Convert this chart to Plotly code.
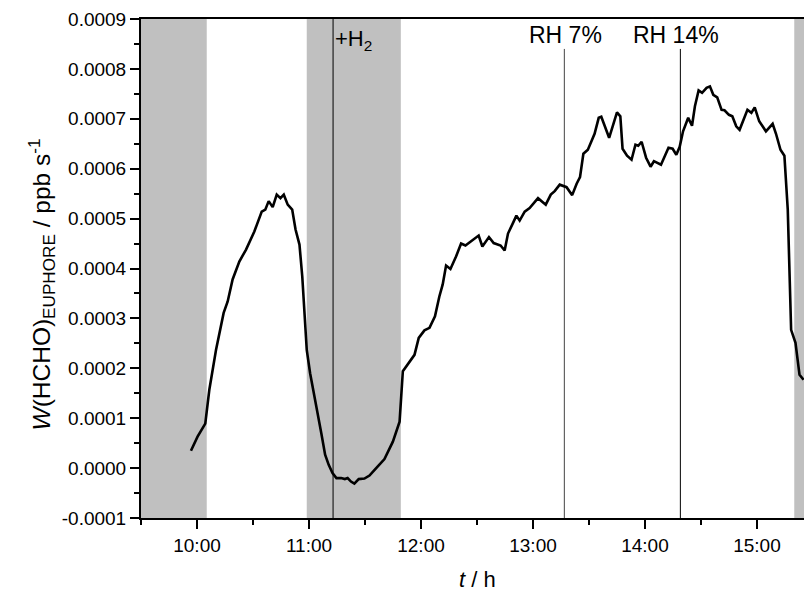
import plotly.graph_objects as go

# time in decimal hours, W(HCHO) in ppb/s
t_h = [9.946, 10.005, 10.074, 10.110, 10.170, 10.238, 10.274, 10.318, 10.378, 10.438,
       10.512, 10.578, 10.610, 10.640, 10.676, 10.712, 10.745, 10.775, 10.810, 10.850,
       10.880, 10.915, 10.940, 10.960, 10.980, 11.010, 11.050, 11.090, 11.110, 11.144,
       11.176, 11.210, 11.245, 11.287, 11.320, 11.345, 11.375, 11.405, 11.444, 11.495,
       11.540, 11.600, 11.674, 11.749, 11.809, 11.838, 11.882, 11.942, 11.980, 12.031,
       12.076, 12.125, 12.164, 12.194, 12.224, 12.263, 12.313, 12.358, 12.397, 12.447,
       12.515, 12.548, 12.607, 12.649, 12.711, 12.747, 12.777, 12.821, 12.852, 12.881,
       12.926, 12.970, 13.045, 13.114, 13.159, 13.194, 13.239, 13.300, 13.350, 13.390,
       13.420, 13.450, 13.490, 13.522, 13.550, 13.587, 13.610, 13.680, 13.750, 13.780,
       13.800, 13.840, 13.880, 13.915, 13.940, 13.970, 14.010, 14.050, 14.080, 14.143,
       14.180, 14.210, 14.247, 14.280, 14.310, 14.340, 14.386, 14.420, 14.446, 14.479,
       14.510, 14.550, 14.580, 14.610, 14.645, 14.684, 14.710, 14.750, 14.780, 14.815,
       14.845, 14.875, 14.915, 14.950, 14.980, 15.020, 15.080, 15.140, 15.170, 15.210,
       15.245, 15.275, 15.305, 15.344, 15.380, 15.416]
w_hcho = [0.0000347, 0.0000630, 0.0000890, 0.0001570, 0.0002370, 0.0003110, 0.0003340, 0.0003780, 0.0004140, 0.0004380,
          0.0004740, 0.0005140, 0.0005180, 0.0005350, 0.0005230, 0.0005480, 0.0005410, 0.0005480, 0.0005280, 0.0005180,
          0.0004780, 0.0004480, 0.0003840, 0.0003040, 0.0002370, 0.0001900, 0.0001440, 0.0001000, 0.0000700, 0.0000270,
          0.0000066, -0.0000100, -0.0000200, -0.0000200, -0.0000220, -0.0000200, -0.0000270, -0.0000310, -0.0000220, -0.0000210,
          -0.0000150, 0.0000000, 0.0000180, 0.0000530, 0.0000930, 0.0001940, 0.0002070, 0.0002270, 0.0002610, 0.0002760,
          0.0002810, 0.0003040, 0.0003440, 0.0003680, 0.0004060, 0.0003990, 0.0004240, 0.0004500, 0.0004460, 0.0004540,
          0.0004660, 0.0004440, 0.0004630, 0.0004510, 0.0004460, 0.0004360, 0.0004700, 0.0004910, 0.0005060, 0.0004960,
          0.0005140, 0.0005210, 0.0005410, 0.0005280, 0.0005480, 0.0005550, 0.0005680, 0.0005630, 0.0005470, 0.0005700,
          0.0005830, 0.0006300, 0.0006380, 0.0006550, 0.0006700, 0.0007020, 0.0007040, 0.0006620, 0.0007130, 0.0007050,
          0.0006400, 0.0006260, 0.0006180, 0.0006480, 0.0006460, 0.0006540, 0.0006220, 0.0006040, 0.0006150, 0.0006080,
          0.0006280, 0.0006420, 0.0006400, 0.0006280, 0.0006440, 0.0006750, 0.0007020, 0.0006860, 0.0007250, 0.0007570,
          0.0007520, 0.0007620, 0.0007650, 0.0007480, 0.0007430, 0.0007180, 0.0007170, 0.0007080, 0.0007050, 0.0006850,
          0.0006780, 0.0006950, 0.0007180, 0.0007120, 0.0007230, 0.0006950, 0.0006750, 0.0006900, 0.0006700, 0.0006380,
          0.0006260, 0.0005180, 0.0002770, 0.0002510, 0.0001870, 0.0001770]

x_range = [9.5, 15.42]
x_tick_vals = [10, 11, 12, 13, 14, 15]
x_tick_text = ["10:00", "11:00", "12:00", "13:00", "14:00", "15:00"]
y_tick_vals = [-0.0001, 0.0, 0.0001, 0.0002, 0.0003, 0.0004, 0.0005, 0.0006, 0.0007, 0.0008, 0.0009]
y_tick_text = ["-0.0001", "0.0000", "0.0001", "0.0002", "0.0003", "0.0004",
               "0.0005", "0.0006", "0.0007", "0.0008", "0.0009"]

# dark periods (shaded)
shade_start = [9.5, 10.98, 15.333]
shade_end = [10.087, 11.82, 15.42]

# events
event_h2 = 11.215
event_rh = [13.28, 14.316]
event_rh_labels = ["RH 7%", "RH 14%"]

FONT = "Liberation Sans, Arial, sans-serif"
GREY = "#c0c0c0"

fig = go.Figure()

# last shaded period drawn as a trace so that it covers the axis lines
fig.add_trace(go.Scatter(
    x=[shade_start[2], shade_end[2], shade_end[2], shade_start[2], shade_start[2]],
    y=[-0.0001, -0.0001, 0.0009, 0.0009, -0.0001],
    fill="toself", fillcolor=GREY, line=dict(width=0, color=GREY),
    mode="lines", hoverinfo="skip", showlegend=False))

fig.add_trace(go.Scatter(x=t_h, y=w_hcho, mode="lines",
                         line=dict(color="black", width=2.6), showlegend=False))

for s, e in zip(shade_start[:2], shade_end[:2]):
    fig.add_shape(type="rect", xref="x", yref="paper", x0=s, x1=e, y0=0, y1=1,
                  fillcolor=GREY, line=dict(width=0), layer="below")

fig.add_shape(type="line", xref="x", yref="paper", x0=event_h2, x1=event_h2, y0=0, y1=1,
              line=dict(color="black", width=1), layer="below")
for xv, col in zip(event_rh, ["#444444", "black"]):
    fig.add_shape(type="line", xref="x", yref="paper", x0=xv, x1=xv, y0=0, y1=0.94,
                  line=dict(color=col, width=1), layer="below")

fig.add_annotation(x=event_h2, xref="x", y=0.958, yref="paper", text="+H<sub>2</sub>",
                   showarrow=False, xanchor="left", yanchor="middle", xshift=0,
                   font=dict(family=FONT, size=22, color="black"))
for xv, lab, xs in zip(event_rh, event_rh_labels, [1, -4]):
    fig.add_annotation(x=xv, xref="x", y=0.9685, yref="paper", text=lab,
                       showarrow=False, xanchor="center", yanchor="middle", xshift=xs,
                       font=dict(family=FONT, size=23, color="black"))

# axis titles
fig.add_annotation(x=0.5075, xref="paper", y=-0.1242, yref="paper", text="<i>t</i> / h",
                   showarrow=False, xanchor="center", yanchor="middle",
                   font=dict(family=FONT, size=22, color="black"))
fig.add_annotation(x=-0.1508, xref="paper", y=0.468, yref="paper",
                   text="<i>W</i>(HCHO)<sub>EUPHORE</sub> / ppb s<sup>-1</sup>",
                   textangle=-90, showarrow=False, xanchor="center", yanchor="middle",
                   font=dict(family=FONT, size=24.5, color="black"))

fig.update_xaxes(range=x_range, tickmode="array", tickvals=x_tick_vals, ticktext=x_tick_text,
                 showline=True, linecolor="black", linewidth=2, mirror=True,
                 ticks="outside", ticklen=9, tickwidth=2, tickcolor="black",
                 showgrid=False, zeroline=False, layer="below traces",
                 tickfont=dict(family=FONT, size=19, color="black"),
                 minor=dict(tickmode="linear", tick0=9.5, dtick=0.5, ticks="outside",
                            ticklen=5, tickwidth=2, tickcolor="black", showgrid=False))
fig.update_yaxes(range=[-0.0001, 0.0009], tickmode="array", tickvals=y_tick_vals, ticktext=y_tick_text,
                 showline=True, linecolor="black", linewidth=2, mirror=False,
                 ticks="outside", ticklen=9, tickwidth=2, tickcolor="black",
                 showgrid=False, zeroline=False, layer="below traces",
                 tickfont=dict(family=FONT, size=19, color="black"),
                 minor=dict(tickmode="linear", tick0=-0.0001, dtick=0.00005, ticks="outside",
                            ticklen=5, tickwidth=2, tickcolor="black", showgrid=False))

fig.update_layout(width=804, height=592, margin=dict(l=141, r=0, t=19, b=74, autoexpand=False),
                  paper_bgcolor="white", plot_bgcolor="white", showlegend=False,
                  font=dict(family=FONT, color="black"))

fig.write_html("out.html", config={"displayModeBar": False})
